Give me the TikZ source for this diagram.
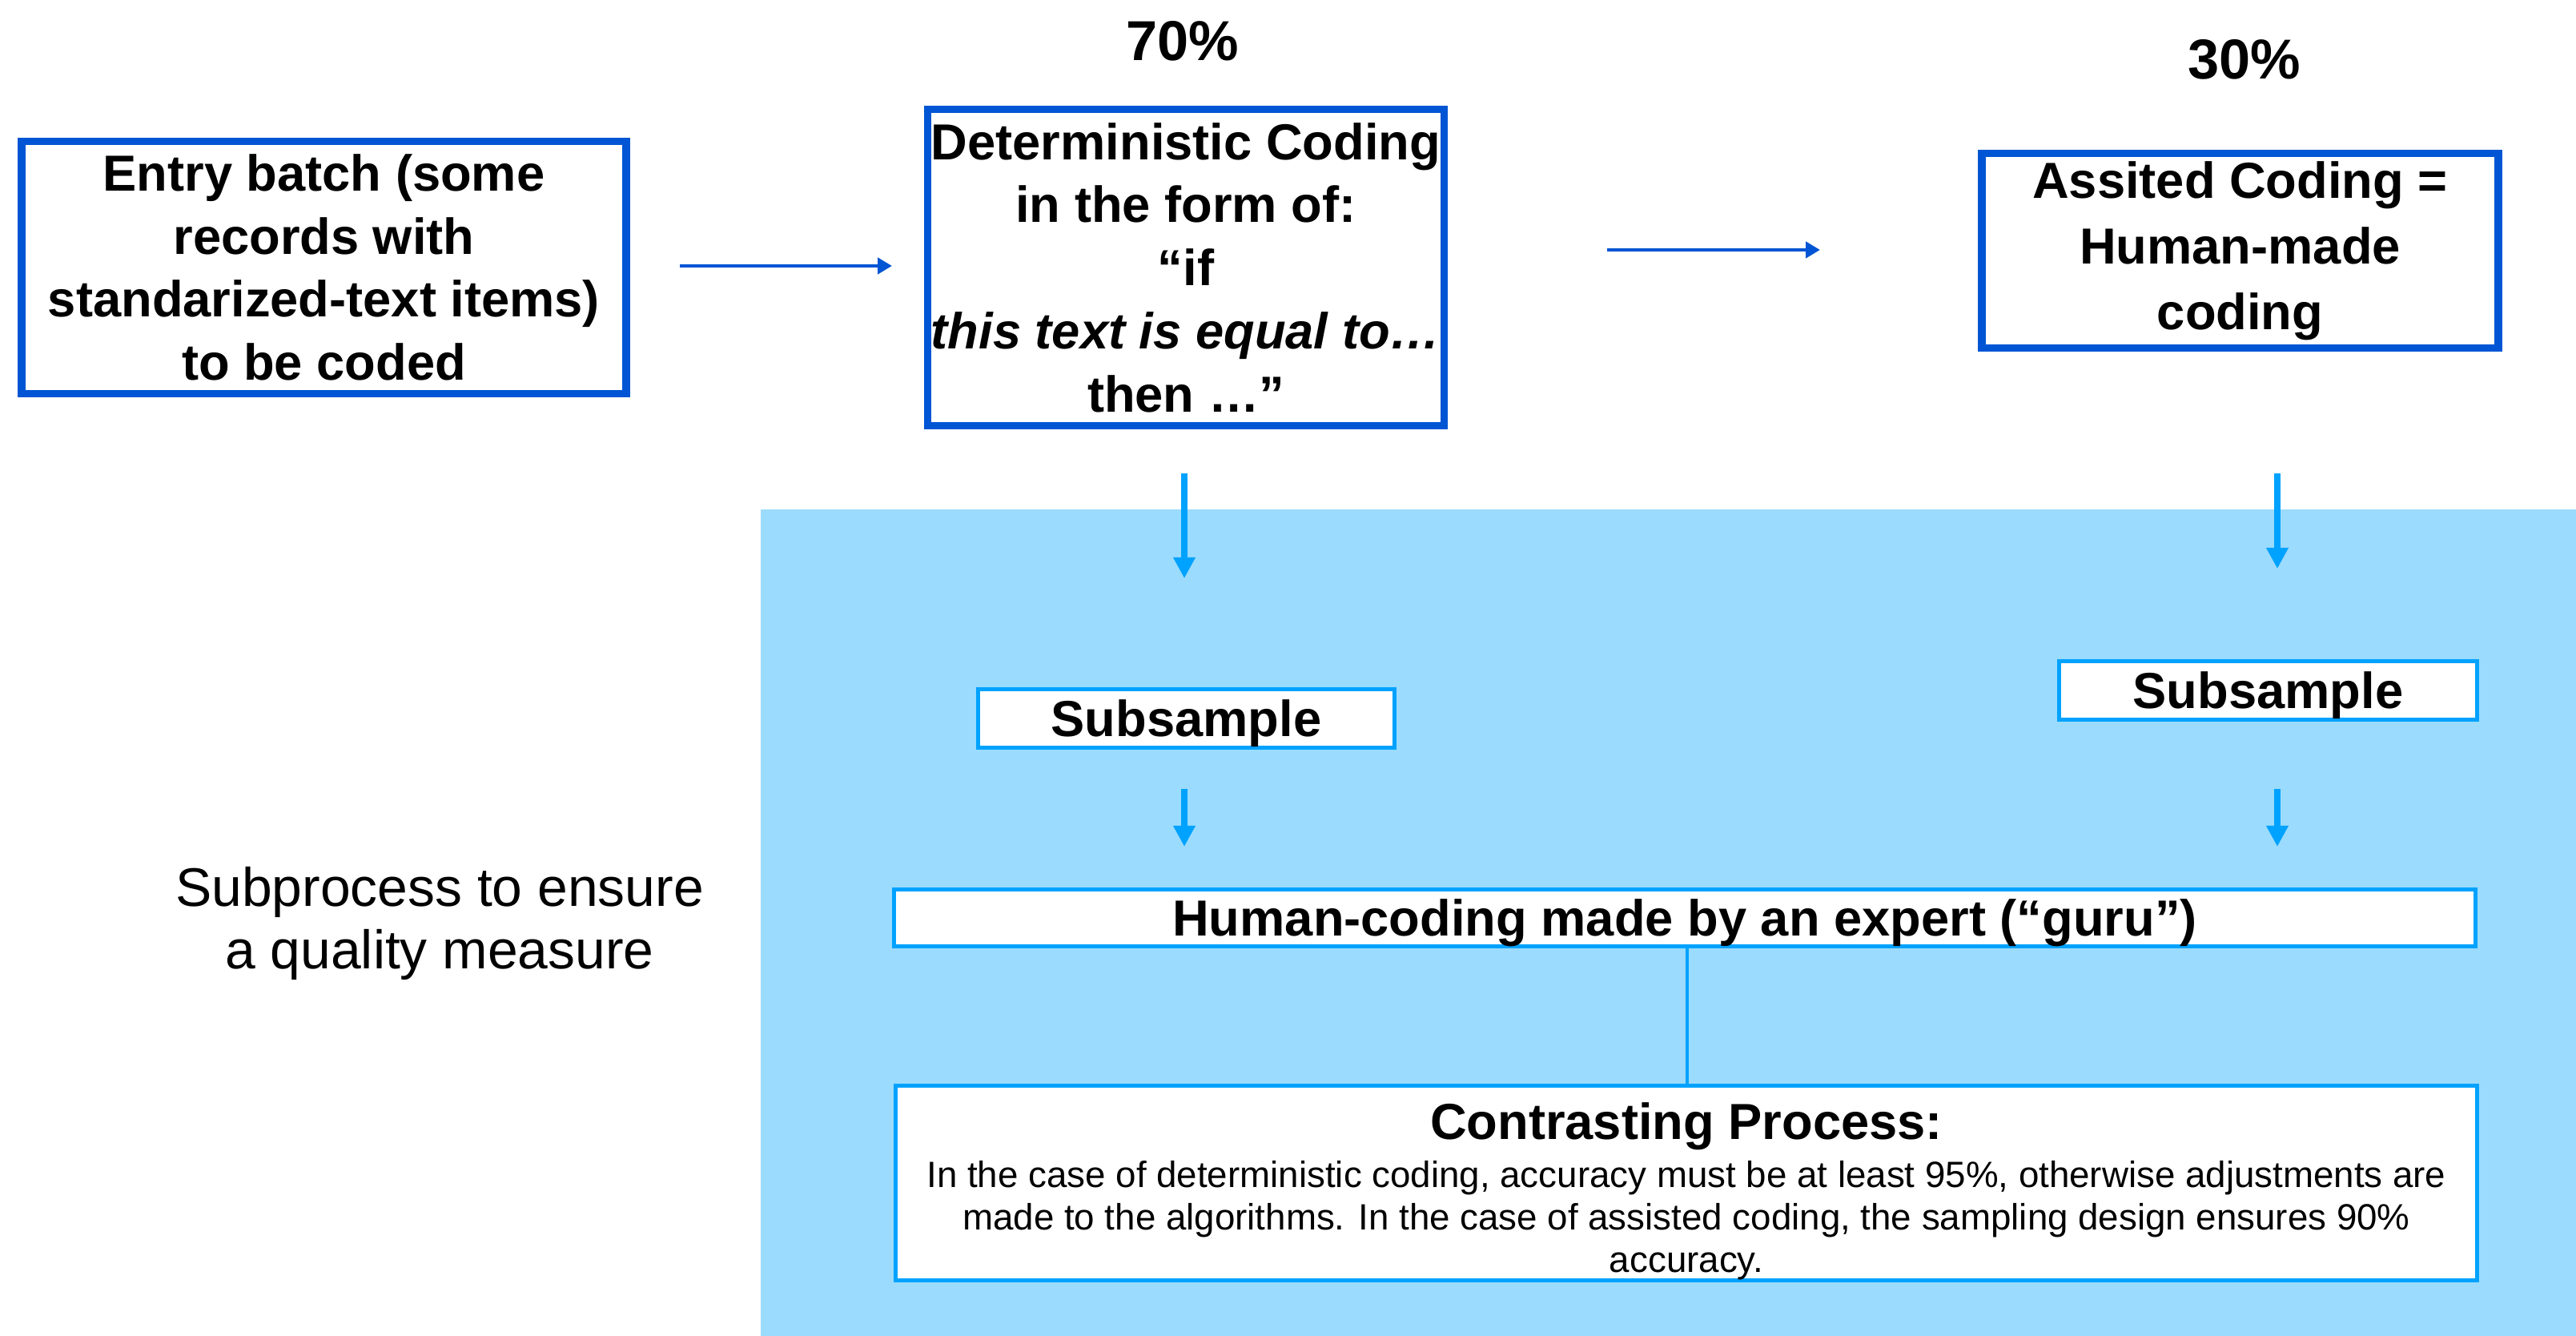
\documentclass[tikz,border=0pt]{standalone}
\usepackage{fontspec}
\setmainfont{Liberation Sans}
\usetikzlibrary{arrows.meta,positioning}
\definecolor{codeblue}{RGB}{0,85,212}
\definecolor{qualityblue}{RGB}{0,162,255}
\definecolor{qualityfill}{RGB}{155,219,253}
\newcommand{\bodyfont}{\mdseries\fontsize{13}{15.2}\selectfont}

\begin{document}
\begin{tikzpicture}
    \tikzstyle{topbox} = [rectangle, draw=codeblue, line width=2.6pt, fill=white, align=center, inner sep=0pt, font=\bfseries\fontsize{18}{22.4}\selectfont]
    \tikzstyle{subbox} = [rectangle, draw=qualityblue, line width=1.6pt, fill=white, align=center, inner sep=0pt, font=\bfseries\fontsize{18}{22.4}\selectfont]
    \tikzstyle{onerow} = [text depth=0pt]
    \tikzstyle{pct} = [font=\bfseries\fontsize{20}{24}\selectfont]
    \tikzstyle{toparrow} = [line width=1.3pt, codeblue, -{Triangle[width=0.2cm,length=0.18cm]}]
    \tikzstyle{qarrow} = [line width=2.3pt, qualityblue, -{Triangle[width=0.26cm,length=0.26cm]}]

    \useasboundingbox (0,0) rectangle (32.17,16.68);
    % quality area
    \fill[qualityfill] (9.50,0) rectangle (32.17,10.32);

    % coding step
    \node (entry) [topbox, minimum width=7.55cm, minimum height=3.15cm] at (4.045,13.34) {Entry batch (some\\records with\\standarized-text items)\\to be coded};
    \node (det) [topbox, minimum width=6.45cm, minimum height=3.95cm] at (14.81,13.34) {Deterministic Coding\\in the form of:\\“if\\\textit{this text is equal to…}\\then …”};
    \node (assist) [topbox, minimum width=6.45cm, minimum height=2.43cm, font=\bfseries\fontsize{18}{23.3}\selectfont] at (27.975,13.55) {Assited Coding =\\Human-made\\coding};
    \node (p70) [pct] at (14.77,16.17) {70\%};
    \node (p30) [pct] at (28.03,15.94) {30\%};

    % quality step
    \node (subL) [subbox, onerow, minimum width=5.2cm, minimum height=0.73cm] at (14.815,7.71) {Subsample};
    \node (subR) [subbox, onerow, minimum width=5.22cm, minimum height=0.73cm] at (28.325,8.06) {Subsample};
    \node (guru) [subbox, onerow, minimum width=19.75cm, minimum height=0.71cm] at (21.04,5.22) {Human-coding made by an expert (“guru”)};
    \node (contrast) [subbox, minimum width=19.75cm, minimum height=2.33cm] at (21.06,1.91) {\rule{0pt}{19pt}Contrasting Process:\\[-5.4pt]
        \bodyfont In the case of deterministic coding, accuracy must be at least 95\%, otherwise adjustments are\\[-7.2pt]
        \bodyfont made to the algorithms. In the case of assisted coding, the sampling design ensures 90\%\\[-7.2pt]
        \bodyfont accuracy.};
    \node (subproc) [align=center, font=\fontsize{19.3}{22.1}\selectfont] at (5.49,5.15) {Subprocess to ensure\\a quality measure};

    % arrow ends
    \coordinate (e1) at (8.49,13.36);
    \coordinate (e2) at (11.14,13.36);
    \coordinate (d1) at (20.07,13.56);
    \coordinate (d2) at (22.73,13.56);
    \coordinate (l1) at (14.79,10.77);
    \coordinate (l2) at (14.79,9.46);
    \coordinate (r1) at (28.44,10.77);
    \coordinate (r2) at (28.44,9.58);
    \coordinate (l3) at (14.79,6.83);
    \coordinate (l4) at (14.79,6.11);
    \coordinate (r3) at (28.44,6.83);
    \coordinate (r4) at (28.44,6.11);
    \coordinate (link) at (21.07,0);

    \draw [toparrow] (e1) -- (e2);
    \draw [toparrow] (d1) -- (d2);
    \draw [qarrow] (l1) -- (l2);
    \draw [qarrow] (r1) -- (r2);
    \draw [qarrow] (l3) -- (l4);
    \draw [qarrow] (r3) -- (r4);
    \draw [qualityblue, line width=1pt] (guru.south -| link) -- (contrast.north -| link);
\end{tikzpicture}
\end{document}
